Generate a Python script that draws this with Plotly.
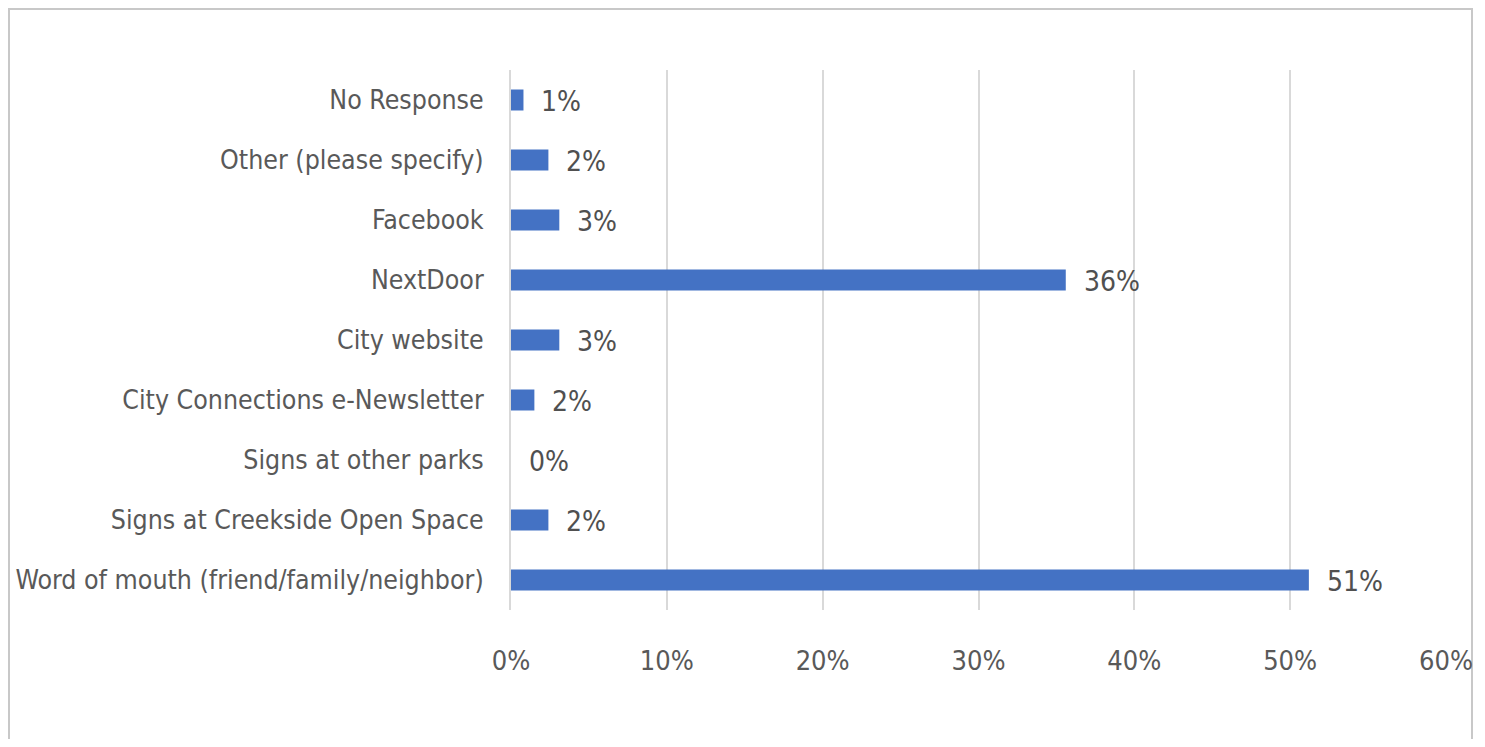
import plotly.graph_objects as go

categories = [
    "Word of mouth (friend/family/neighbor)",
    "Signs at Creekside Open Space",
    "Signs at other parks",
    "City Connections e-Newsletter",
    "City website",
    "NextDoor",
    "Facebook",
    "Other (please specify)",
    "No Response",
]
values = [0.512, 0.024, 0.0, 0.015, 0.031, 0.356, 0.031, 0.024, 0.008]
labels = ["51%", "2%", "0%", "2%", "3%", "36%", "3%", "2%", "1%"]
tick_vals = [0, 0.1, 0.2, 0.3, 0.4, 0.5, 0.6]
tick_text = ["0%", "10%", "20%", "30%", "40%", "50%", "60%"]

FONT = "Liberation Sans Narrow, DejaVu Sans Condensed, Arial Narrow, sans-serif"
# page body has an 8px margin; figure coords = screen - 8
W, H = 1469, 731
L, R, T, B = 503, 31, 62, 129
pw, ph = W - L - R, H - T - B

fig = go.Figure()
fig.add_trace(go.Bar(
    x=values, y=categories, orientation="h",
    marker=dict(color="#4472C4", line=dict(width=0)),
    width=0.35, hoverinfo="skip",
))

for c, v, t in zip(categories, values, labels):
    fig.add_annotation(x=v, y=c, text=t, showarrow=False, xanchor="left",
                       xshift=16, yshift=-1,
                       font=dict(family=FONT, size=28, color="#505050"))

fig.add_shape(type="rect", xref="paper", yref="paper",
              x0=(1 - L) / pw, x1=(1464 - L) / pw,
              y0=-0.5, y1=(H - B - 1) / ph,
              line=dict(color="#c8c8c8", width=2), fillcolor="rgba(0,0,0,0)",
              layer="below")

fig.update_layout(
    width=W, height=H,
    margin=dict(l=L, r=R, t=T, b=B, pad=0, autoexpand=False),
    paper_bgcolor="white", plot_bgcolor="white",
    showlegend=False,
    xaxis=dict(range=[0, 0.6], tickvals=tick_vals, ticktext=tick_text,
               showgrid=True, gridcolor="#d9d9d9", gridwidth=2,
               zeroline=False, showline=False, ticks="", automargin=False,
               ticklabelstandoff=32,
               tickfont=dict(family=FONT, size=27, color="#595959")),
    yaxis=dict(categoryorder="array", categoryarray=categories,
               range=[-0.5, len(categories) - 0.5],
               showgrid=False, zeroline=False, automargin=False,
               showline=True, linecolor="#d9d9d9", linewidth=2, ticks="",
               ticklabelstandoff=20,
               tickfont=dict(family=FONT, size=26.5, color="#595959")),
)

fig.write_html("out.html")
